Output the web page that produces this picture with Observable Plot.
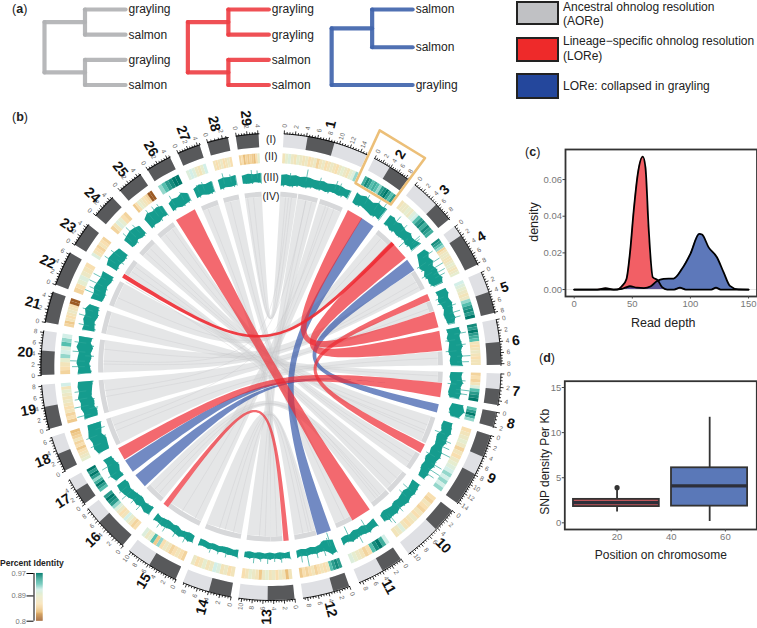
<!DOCTYPE html>
<html><head><meta charset="utf-8">
<script src="https://cdn.jsdelivr.net/npm/d3@7"></script>
<script src="https://cdn.jsdelivr.net/npm/@observablehq/plot@0.6"></script>
<style>
html,body{margin:0;padding:0;background:#fff;font-family:"Liberation Sans",Arial,sans-serif}
#page{position:relative;width:757px;height:628px;overflow:hidden}
.t{position:absolute;white-space:nowrap;color:#222}
.box{position:absolute;box-sizing:border-box;border:2px solid #222}
</style></head><body><div id="page"></div>
<script>
// ---------- DATA ----------
const chrNames=["1","2","3","4","5","6","7","8","9","10","11","12","13","14","15","16","17","18","19","20","21","22","23","24","25","26","27","28","29"];
const sectorStart=[3.3,26.8,38.8,53.1,66.1,78.3,91.7,101.2,107.1,128,145.5,160,174,190,204.4,220,234,243.5,254.5,267.9,281,290.6,301.5,310.4,319,327.6,336.2,344,351.3];
const sectorEnd=[24.8,36.7,50.9,64.1,76.7,89.6,99.5,105,125.8,143.2,157.4,171.9,188,202.4,217.9,232.6,241.1,252.4,265.5,278.9,288.7,299.2,307.5,316.5,325.5,334,342,349.3,357];
const chrLength=[15.3,8.7,9.3,8.3,8.2,8.3,4.7,2.1,14.3,10.8,8.6,8.8,10.5,8.6,10.3,8.6,5.6,6.5,8.2,8.3,4.8,6.3,4.7,4.8,4.7,4.6,4.5,2.8,4.2];
const darkArms=[[[.28,.6]],[[.45,1]],[[.6,1]],[[.25,1]],[[.5,1]],[[.5,1]],[[.5,1]],[[0,1]],[[0,.3],[.55,1]],[[0,.4]],[[0,.45]],[[0,.35]],[[0,.48]],[[0,.45]],[[0,.55]],[[0,.65]],[[0,.55]],[[0,.5]],[[0,.5]],[[0,.55]],[[0,1]],[[0,1]],[[0,1]],[[0,1]],[[0,1]],[[0,1]],[[0,1]],[[0,1]],[[0,1]]];
const identity=[
[.87,.89,.9,.88,.87,.89,.88,.87,.88,.86,.87,.88,.85,.87,.88,.86,.87,.88,.87,.86,.88,.89,.88,.87,.89,.9,.92],
[.94,.96,.95,.93,.94,.93,.92,.95,.96,.97,.95,.93,.95],
[.87,.88,.88,.89,.88,.9,.91,.93,.95,.96,.94,.96,.95,.94],
[.96,.95,.93,.92,.85,.87,.88,.88,.87,.87,.88,.89,.88,.87,.88,.89],
[.91,.9,.89,.88,.87,.88,.92,.93,.95,.96,.95,.97],
[.96,.95,.97,.95,.94,.93,.87,.86,.87,.88,.87,.86,.87,.87],
[.85,.86,.85,.87,.9,.93,.95,.96,.97],
[.93,.95,.97,.94,.92],
[.86,.87,.88,.89,.88,.85,.87,.86,.88,.89,.9,.91,.92,.91,.92,.91,.92],
[.86,.85,.87,.86,.85,.87,.86,.88,.87,.86,.87,.9,.88,.87],
[.91,.94,.97,.96,.93,.86,.85,.87,.88,.89,.9],
[.95,.96,.95,.93,.87,.86,.87,.86,.85,.87,.86,.85,.86,.84],
[.87,.83,.87,.88,.86,.88,.87,.89,.88,.84,.87,.88,.89,.87,.86],
[.87,.86,.88,.87,.9,.91,.88,.87,.89,.87,.86,.88],
[.85,.86,.87,.86,.85,.87,.88,.86,.92,.84,.93,.89,.88,.9],
[.86,.85,.87,.89,.91,.87,.86,.88,.9,.92,.95,.96,.97,.95],
[.93,.95,.97,.94,.92,.95,.97,.95,.97],
[.89,.88,.87,.86,.84,.86,.85,.87,.85,.84,.83],
[.84,.86,.85,.87,.86,.87,.88,.87,.88,.89,.87,.91],
[.85,.86,.87,.89,.92,.91,.9,.93,.92,.91],
[.85,.84,.87,.86,.87,.88,.87,.86,.8,.8],
[.85,.86,.89,.9,.88,.87,.86],
[.9,.87,.86,.85,.87,.86,.85],
[.85,.87,.9,.89,.86,.85],
[.84,.86,.89,.88,.87,.86,.85,.8,.8],
[.92,.93,.95,.96,.97,.97],
[.9,.91,.9,.88,.87,.89,.91],
[.87,.86,.87,.88,.86,.87,.88,.86],
[.85,.86,.83,.85,.84,.85,.84,.83,.86,.89]];
const identityDomain=[.8,.83,.86,.89,.91,.93,.97];
const identityColors=["#9c5a24","#eabf7b","#f8dfb0","#e6edcf","#d3efe8","#55bfae","#00796b"];
const depthHi=[[3,4,3,4,3,4,4,3,3,4,3,4,5,5,4,5],[6,5,7,6,5,8,7,8],[5,6,4,6,5,4,6,4,5,7],[6,8,5,7,4,6,5,7,5],[5,6,4,6,5,4,5,3],[6,7,5,6,7,5,6,5,6],[6,5,7,5,6,5],[10,13,9],[4,5,6,4,5,3,5,6,4,5,3,4,3],[3,4,5,4,6,5,4,6,5,6,4],[4,3,5,4,3,4,5,3,4],[8,9,4,3,4,3,4,3,4],[4,3,4,3,4,3,4,3,4,3],[5,4,4,3,4,3,4,3,4],[4,5,3,5,4,3,4,5,4,5],[4,5,3,5,4,6,7,8,7],[5,7,6,4,5],[6,8,7,9,7,6],[7,6,8,7,9,7,8,7],[7,6,8,7,6,9,7,8],[6,5,7,6,8,5],[6,5,7,6,5,6],[6,8,7,5],[6,7,8,7,5],[6,9,7,8,6],[4,6,5,7,4],[5,7,5,6],[5,6,5,6],[4,5,4,5]];
const depthLo=[[-8,-7,-8,-7,-6,-7,-6,-5,-6,-5,-6,-4,-4,-5,-3,-4],[-5,-6,-4,-5,-6,-7,-5,-6],[-6,-5,-7,-5,-6,-5,-4,-6,-4,-5],[-3,-5,-7,-9,-6,-9,-7,-8,-5],[-6,-5,-7,-5,-4,-6,-5,-4],[-7,-6,-8,-6,-7,-8,-6,-7,-6],[-6,-7,-5,-6,-7,-5],[-1,-3,0],[-5,-6,-4,-7,-6,-5,-7,-6,-8,-6,-7,-5,-4],[-6,-5,-4,-6,-5,-4,-5,-3,-4,-5,-3],[-5,-4,-3,-5,-4,-5,-3,-4,-3],[-5,-6,-7,-4,-3,-4,-3,-4,-3],[-3,-2,-3,-2,-3,-2,-3,-2,-3,-2],[-3,-2,-3,-3,-2,-3,-2,-3,-3],[-3,-4,-3,-2,-4,-3,-4,-3,-2,-3],[-5,-4,-3,-5,-4,-3,-2,-4,-3],[-5,-4,-7,-5,-4],[-6,-7,-8,-5,-7,-8],[-7,-8,-6,-7,-5,-6,-7,-8],[-7,-6,-5,-7,-6,-8,-5,-6],[-7,-6,-5,-7,-6,-5],[-6,-7,-6,-5,-7,-6],[-6,-5,-7,-6],[-5,-6,-4,-6,-5],[-6,-5,-6,-4,-5],[-5,-4,-6,-5,-4],[-5,-4,-6,-5],[-5,-4,-5,-4],[-4,-5,-4,-5]];
const depthSpikes=[[1,.35,12],[1,.78,9],[1,.84,8],[1,.12,6],[1,.55,7],[2,.35,10],[2,.7,11],[2,.9,12],[3,.2,11],[3,.7,-12],[3,.85,11],[3,.9,9],[3,.45,9],[4,.15,12],[4,.4,14],[4,.55,15],[4,.7,13],[4,.8,11],[4,.3,-11],[4,.62,-12],[5,.2,-9],[5,.5,9],[5,.7,11],[5,.85,10],[5,.35,-9],[6,.15,12],[6,.45,10],[6,.75,14],[6,.9,12],[6,.3,-10],[6,.6,-11],[7,.3,9],[7,.65,14],[7,.8,12],[7,.45,-9],[9,.2,-11],[9,.4,10],[9,.5,14],[9,.72,12],[9,.82,14],[9,.9,10],[9,.6,-10],[9,.3,9],[10,.2,-11],[10,.35,-10],[10,.85,12],[10,.9,9],[10,.6,8],[11,.3,-11],[11,.55,10],[11,.8,-13],[12,.1,-14],[12,.15,-9],[12,.5,8],[12,.75,15],[12,.9,9],[12,.3,8],[13,.2,7],[13,.5,8],[13,.8,8],[13,.35,6],[13,.65,6],[14,.3,7],[14,.7,7],[14,.5,6],[15,.2,8],[15,.45,8],[15,.7,9],[15,.85,9],[16,.3,9],[16,.7,12],[16,.85,10],[16,.5,8],[17,.3,10],[17,.7,11],[18,.3,11],[18,.6,12],[18,.8,-10],[19,.1,14],[19,.35,15],[19,.55,13],[19,.75,12],[19,.25,-9],[20,.2,13],[20,.35,16],[20,.6,13],[20,.85,12],[20,.5,-9],[21,.2,11],[21,.55,13],[21,.8,11],[22,.2,16],[22,.35,12],[22,.55,15],[22,.8,14],[23,.3,13],[23,.7,11],[23,.5,-8],[24,.2,12],[24,.5,14],[24,.8,11],[25,.3,13],[25,.6,12],[25,.85,11],[26,.2,11],[26,.7,9],[27,.5,9],[27,.2,8],[28,.3,11],[28,.7,8],[29,.5,9],[29,.8,8]];
// ribbons: [a1,a2,b1,b2] in degrees clockwise from the top
const grayLinks=[[3.3,9,351.3,357],[9.3,16,180,188],[16.8,24.8,204.5,216.5],[38.8,44.5,290.6,299.2],[56.8,63.5,268,278.9],[68,71.5,254.5,265.5],[85,89.6,243.3,252.5],[91.7,95.3,281,288.7],[107,116,310.4,316.5],[120,126,319,325.5],[128,136,302.2,307.5],[136.5,143.2,219.5,226],[151.7,157.4,344,349.3],[164.5,171.9,190,202.4],[176,180,336.2,342]];
const grayThreads=[[5,354],[7,352],[12,184],[14,182],[19,207],[22,212],[41,294],[60,271],[62,276],[70,260],[87,248],[93,284],[110,312],[113,314],[122,321],[124,324],[131,304],[134,306],[139,222],[141,224],[154,346],[167,193],[169,198],[178,338],[196,166],[6,272],[12,262],[20,250],[140,300],[112,300]];
const blueLinks=[[32,36.6,159.6,164.2],[52.5,56.5,102.6,105.1],[226.8,231.6,97.7,97.7],[233,237.5,97.7,97.7]];
const redLinks=[[326.9,333.8,145,151.5],[26.8,32,71.8,76.9],[45,51.5,78.4,84.6],[65.6,67.7,116.5,119.5],[95.5,100,238,242],[174,175.6,216.6,218.3]];
const strongRedLinks=[[44.6,45.8,300.7,301.9]];
const focusBox=[[25,203],[25,261],[36.8,261],[36.8,203],[25,203]];
const trackLabels=[["(I)",227.5],["(II)",210],["(III)",189.5],["(IV)",170.5]];
// density panel
const redX=[0,20,27,34,37,41,45,48,51.2,54.7,59,61.3,64,67.6,72,75.6,80,86,91,96,118,122,126,150];
const redY=[0,0,.0007,0,0,.0018,.0058,.02,.043,.063,.0725,.0667,.034,.0067,.005,.0013,0,0,.001,0,0,.001,0,0];
const blueX=[0,34,40,44,48,54,60,66,71,77,85.6,92.8,100,107.6,110,115.7,122.8,128.5,134,141,150];
const blueY=[0,0,.0002,.001,.0018,.001,.0008,.0018,.0045,.0058,.006,.0113,.0195,.0304,.03,.023,.0176,.0095,.002,.0001,0];
// box panel
const boxes=[{x1:3.9,x2:35.6,q1:1.8,med:2.25,q3:2.6,lo:1.2,hi:3.6,mid:20,fill:"#c0565a"},{x1:40.1,x2:68.2,q1:1.85,med:4.1,q3:6.1,lo:.15,hi:11.7,mid:54.2,fill:"#5a78b8"}];
const outliers=[{mid:20,v:3.9}];
// trees: segments in (depth, tip rank)
const treeColors=["#b1b2b4","#ee4146","#4165ad"];
const treeOffset=[0,3.54,7.09];
const treeSegments=[
 [[0,.5,0,2.5],[0,.5,1,.5],[0,2.5,1,2.5],[1,0,1,1],[1,2,1,3],[1,0,2,0],[1,1,2,1],[1,2,2,2],[1,3,2,3]],
 [[0,.5,0,2.5],[0,.5,1,.5],[0,2.5,1,2.5],[1,0,1,1],[1,2,1,3],[1,0,2,0],[1,1,2,1],[1,2,2,2],[1,3,2,3]],
 [[0,.75,0,3],[0,.75,1,.75],[1,0,1,1.5],[1,0,2,0],[1,1.5,2,1.5],[0,3,2,3]]];
const treeTips=[[["grayling",0],["salmon",1],["grayling",2],["salmon",3]],[["grayling",0],["grayling",1],["salmon",2],["salmon",3]],[["salmon",0],["salmon",1.5],["grayling",3]]];
const legendRows=[{c:"#c0c1c4",top:1,h:24,lines:[["Ancestral ohnolog resolution",0],["(AORe)",14]],ty:-1},{c:"#ee2a2a",top:37,h:25,lines:[["Lineage−specific ohnolog resolution",0],["(LORe)",15]],ty:-3},{c:"#24479c",top:73,h:26,lines:[["LORe: collapsed in grayling",0]],ty:6}];

// ---------- HELPERS ----------
const FONT='"Liberation Sans",Arial,sans-serif';
const page=document.getElementById("page");
function place(el,left,top){el.style.position="absolute";el.style.left=left+"px";el.style.top=top+"px";page.appendChild(el);return el}
const base={background:"transparent",overflow:"visible",maxWidth:"none",fontFamily:FONT,height:"auto"};
const pol=(r,a)=>[r*Math.sin(a*Math.PI/180),r*Math.cos(a*Math.PI/180)];
let uid=0;
function band(out,r1,r2,a1,a2,extra){const id=uid++,n=Math.max(2,Math.ceil(Math.abs(a2-a1)/1.5));
 for(let i=0;i<=n;i++){const a=a1+(a2-a1)*i/n,[x1,y1]=pol(r1,a),[x2,y2]=pol(r2,a);out.push({id,x1,y1,x2,y2,...extra})}return out}
function edge(a,b,r,k=.05,n=64){const P0=pol(r,a),P3=pol(r,b),P1=[P0[0]*k,P0[1]*k],P2=[P3[0]*k,P3[1]*k],pts=[];
 for(let i=0;i<=n;i++){const t=i/n,u=1-t,c=[u*u*u,3*u*u*t,3*u*t*t,t*t*t];
  pts.push([c[0]*P0[0]+c[1]*P1[0]+c[2]*P2[0]+c[3]*P3[0],c[0]*P0[1]+c[1]*P1[1]+c[2]*P2[1]+c[3]*P3[1]])}return pts}
const arcLen=(r,a1,a2)=>Math.abs(a2-a1)*Math.PI/180*r/2;
// a ribbon keeps a minimum width through the pinch near the centre
function ribbons(list,r,keep=.25,add=.5){const out=[];list.forEach(([a1,a2,b1,b2])=>{const id=uid++,e1=edge(a1,b2,r),e2=edge(a2,b1,r);
 const hA=arcLen(r,a1,a2),hB=arcLen(r,b1,b2),m=hB>0&&hA>0?keep*(hA+hB)/2+add:0;
 const center=e1.map((p,i)=>[(p[0]+e2[i][0])/2,(p[1]+e2[i][1])/2]);
 let s=0;
 center.forEach((c,i)=>{const q=center[Math.min(i+1,center.length-1)],o=center[Math.max(i-1,0)];
  let nx=-(q[1]-o[1]),ny=q[0]-o[0];const L=Math.hypot(nx,ny)||1;nx/=L;ny/=L;
  const hx=(e2[i][0]-e1[i][0])/2,hy=(e2[i][1]-e1[i][1])/2;
  if(i===0)s=(hx*nx+hy*ny)>=0?1:-1;
  const h=Math.hypot(hx,hy),w=Math.sqrt(h*h+m*m)*s;
  if(m===0){out.push({id,x1:e1[i][0],y1:e1[i][1],x2:e2[i][0],y2:e2[i][1]})}
  else out.push({id,x1:c[0]-nx*w,y1:c[1]-ny*w,x2:c[0]+nx*w,y2:c[1]+ny*w})})});return out}

// ---------- CIRCOS ----------
const lightBands=[],darkBands=[],heat=[],rings=[],track=[],zig=[],spikes=[],ticks=[],tickText=[],baseline=[],nameText=[];
const R={top:233.5,ideo:219.5,heatTop:213.5,heatIn:203.5,trk:189,ringTop:175,ringIn:170};
chrNames.forEach((nm,c)=>{
 const s=sectorStart[c],e=sectorEnd[c],at=f=>s+(e-s)*f;
 band(lightBands,R.ideo,R.top,s,e,{});
 darkArms[c].forEach(([f1,f2])=>band(darkBands,R.ideo,R.top,at(f1),at(f2),{}));
 identity[c].forEach((v,j,arr)=>band(heat,R.heatIn,R.heatTop,at(j/arr.length),at((j+1)/arr.length),{v}));
 const id=uid++,hi=depthHi[c],lo=depthLo[c];
 hi.forEach((h,j)=>{const a=at(j/(hi.length-1)),p=pol(R.trk+h,a),q=pol(R.trk+lo[j],a);
  track.push({id,x1:p[0],y1:p[1],x2:q[0],y2:q[1]});
  zig.push({id,x:p[0],y:p[1]});const a2=at((j+.5)/(hi.length-1)),q2=pol(R.trk+lo[j],j<hi.length-1?a2:a);zig.push({id,x:q2[0],y:q2[1]})});
 const L=chrLength[c];
 d3.range(0,L+1e-6,.5).forEach(m=>{const a=at(m/L),maj=m%2===0,p=pol(R.top,a),q=pol(R.top+(maj?3.5:2),a);
  ticks.push({x1:p[0],y1:p[1],x2:q[0],y2:q[1]});
  if(maj){const t=pol(R.top+8,a);tickText.push({x:t[0],y:t[1],t:String(m),rot:a<180?a-90:a+90})}});
 const bid=uid++;d3.range(0,41).forEach(i=>{const p=pol(R.top,at(i/40));baseline.push({id:bid,x:p[0],y:p[1]})});
 const mid=at(.5),np=pol(250,mid);nameText.push({x:np[0],y:np[1],t:nm,rot:mid<180?mid-90:mid+90});
});
depthSpikes.forEach(([c,f,o])=>{const a=sectorStart[c-1]+(sectorEnd[c-1]-sectorStart[c-1])*f,p=pol(R.trk,a),q=pol(R.trk+o,a);spikes.push({x1:p[0],y1:p[1],x2:q[0],y2:q[1]})});
grayLinks.forEach(([a1,a2,b1,b2])=>{band(rings,R.ringIn,R.ringTop,a1,a2,{});band(rings,R.ringIn,R.ringTop,b1,b2,{})});
const threadLines=[];grayThreads.forEach(([a,b])=>{const id=uid++;edge(a,b,R.ringIn).forEach(p=>threadLines.push({id,x:p[0],y:p[1]}))});
const area=(d,o)=>Plot.area(d,{x1:"x1",y1:"y1",x2:"x2",y2:"y2",z:"id",...o});
const focus=focusBox.map(([a,r])=>{const p=pol(r,a);return{x:p[0],y:p[1]}});
const roman=trackLabels.map(([t,r])=>{const p=pol(r,0);return{t,x:p[0],y:p[1]}});
place(Plot.plot({width:757,height:628,margin:0,style:base,
 x:{domain:[-234,234],range:[40,501],axis:null},y:{domain:[-234,234],range:[600.5,132.5],axis:null},
 color:{type:"linear",domain:identityDomain,range:identityColors},
 marks:[
  area(ribbons(grayLinks,R.ringIn,.12,.4),{fill:"#d4d5d7",fillOpacity:.6}),
  Plot.line(threadLines,{x:"x",y:"y",z:"id",stroke:"#c2c3c6",strokeWidth:.6,strokeOpacity:.5}),
  area(rings,{fill:"#d7d8da"}),
  area(ribbons(blueLinks,R.ringTop),{fill:"#2f52a6",fillOpacity:.68}),
  area(ribbons(redLinks,R.ringTop),{fill:"#ee2a32",fillOpacity:.7}),
  area(ribbons(strongRedLinks,R.ringTop,.5,.3),{fill:"#ee2a32",fillOpacity:.9}),
  area(track,{fill:"#159c8e"}),
  Plot.line(zig,{x:"x",y:"y",z:"id",stroke:"#159c8e",strokeWidth:.6}),
  Plot.link(spikes,{x1:"x1",y1:"y1",x2:"x2",y2:"y2",stroke:"#2aa698",strokeWidth:.7}),
  area(heat,{fill:"v"}),
  area(lightBands,{fill:"#dfe0e4"}),
  area(darkBands,{fill:"#58595b"}),
  Plot.line(baseline,{x:"x",y:"y",z:"id",stroke:"#000",strokeWidth:1}),
  Plot.link(ticks,{x1:"x1",y1:"y1",x2:"x2",y2:"y2",stroke:"#000",strokeWidth:.8}),
  Plot.text(tickText,{x:"x",y:"y",text:"t",rotate:"rot",fontSize:6.5,fill:"#666"}),
  Plot.text(nameText,{x:"x",y:"y",text:"t",rotate:"rot",fontSize:14,fontWeight:"bold",fill:"#111"}),
  Plot.line(focus,{x:"x",y:"y",stroke:"#ecbf78",strokeWidth:2.6}),
  Plot.text(roman,{x:"x",y:"y",text:"t",fontSize:10.5,fill:"#222"})
 ]}),0,0);

// ---------- TREES ----------
const treeMarks=[];
treeSegments.forEach((segs,i)=>{
 const off=treeOffset[i];
 treeMarks.push(Plot.link(segs,{x1:d=>d[0]+off,y1:d=>d[1],x2:d=>d[2]+off,y2:d=>d[3],stroke:treeColors[i],strokeWidth:4.2,strokeLinecap:"round",strokeOpacity:.92}));
 treeMarks.push(Plot.text(treeTips[i],{x:()=>2+off,y:d=>d[1],text:d=>d[0],textAnchor:"start",dx:3,fontSize:12,fill:"#222"}));
});
place(Plot.plot({width:510,height:105,margin:0,style:base,x:{domain:[0,9.5],range:[44,428.75],axis:null},y:{domain:[0,3],range:[9,84.5],axis:null},marks:treeMarks}),0,0);

// ---------- LEGEND (a) ----------
legendRows.forEach(r=>{
 const b=document.createElement("div");b.className="box";b.style.cssText=`left:516px;top:${r.top}px;width:43px;height:${r.h}px;background:${r.c}`;page.appendChild(b);
 r.lines.forEach(([t,dy])=>{const d=document.createElement("div");d.className="t";d.textContent=t;d.style.cssText=`left:563px;top:${r.top+r.ty+dy}px;font-size:12px;line-height:14px`;page.appendChild(d)});
});
[["a",12,2],["b",12,110],["c",525,145],["d",539,351]].forEach(([k,l,t])=>{const d=document.createElement("div");d.className="t";d.innerHTML=`(<b>${k}</b>)`;d.style.cssText=`left:${l}px;top:${t}px;font-size:12.5px;line-height:15px`;page.appendChild(d)});

// ---------- PANEL C ----------
const redData=redX.map((x,i)=>({x,y:redY[i]})),blueData=blueX.map((x,i)=>({x,y:blueY[i]}));
const axisStyle={stroke:"#444",fill:"#777",fontSize:9.5,tickSize:2.5,tickPadding:1,label:null};
place(Plot.plot({width:257,height:200,marginLeft:65,marginRight:.5,marginTop:19,marginBottom:34,style:base,
 x:{domain:[-7.5,157.3]},y:{domain:[-.0038,.0764]},
 marks:[
  Plot.ruleY([0],{stroke:"#e4e4e4"}),
  Plot.areaY(redData,{x:"x",y:"y",fill:"#ee2a32",fillOpacity:.75,curve:"monotone-x"}),
  Plot.areaY(blueData,{x:"x",y:"y",fill:"#2f52a6",fillOpacity:.78,curve:"monotone-x"}),
  Plot.lineY(redData,{x:"x",y:"y",stroke:"#000",strokeWidth:1.8,curve:"monotone-x"}),
  Plot.lineY(blueData,{x:"x",y:"y",stroke:"#000",strokeWidth:1.8,curve:"monotone-x"}),
  Plot.frame({stroke:"#333",strokeWidth:1.8}),
  Plot.axisX({...axisStyle,ticks:[0,50,100,150]}),
  Plot.axisY({...axisStyle,ticks:[0,.02,.04,.06],tickFormat:d3.format(".2f")}),
  Plot.text(["Read depth"],{frameAnchor:"bottom",dy:30,fontSize:12.5,fill:"#222",dx:2}),
  Plot.text(["density"],{frameAnchor:"left",textAnchor:"middle",dx:-32,dy:-1,rotate:-90,fontSize:12.5,fill:"#222"})
 ]}),500,130);

// ---------- PANEL D ----------
place(Plot.plot({width:257,height:235,marginLeft:64.3,marginRight:.7,marginTop:40.7,marginBottom:46,style:base,
 x:{domain:[.7,71.6]},y:{domain:[-.74,15.7]},
 marks:[
  Plot.ruleX(boxes,{x:"mid",y1:"lo",y2:"hi",stroke:"#333",strokeWidth:1.8}),
  Plot.rect(boxes,{x1:"x1",x2:"x2",y1:"q1",y2:"q3",fill:"fill",stroke:"#333",strokeWidth:1.8}),
  Plot.ruleY(boxes,{y:"med",x1:"x1",x2:"x2",stroke:"#2d2f3a",strokeWidth:3.2}),
  Plot.dot(outliers,{x:"mid",y:"v",r:2.6,fill:"#333"}),
  Plot.frame({stroke:"#333",strokeWidth:1.8}),
  Plot.axisX({...axisStyle,ticks:[20,40,60]}),
  Plot.axisY({...axisStyle,ticks:[0,5,10,15],tickFormat:d=>d}),
  Plot.text(["Position on chromosome"],{frameAnchor:"bottom",dy:29,fontSize:12,fill:"#222"}),
  Plot.text(["SNP density Per Kb"],{frameAnchor:"left",textAnchor:"middle",dx:-20,dy:6.5,rotate:-90,fontSize:12,fill:"#222"})
 ]}),500,340);

// ---------- PERCENT IDENTITY LEGEND ----------
const ramp=d3.range(.8,.97,.0034);
const title=document.createElement("div");title.className="t";title.textContent="Percent Identity";title.style.cssText="left:0;top:558px;font-size:8.5px;font-weight:bold;line-height:10px";page.appendChild(title);
place(Plot.plot({width:50,height:60,marginLeft:33.5,marginRight:7.3,marginTop:8,marginBottom:4.3,style:base,
 x:{domain:[0,1],axis:null},y:{domain:[.8,.97]},
 color:{type:"linear",domain:identityDomain,range:identityColors},
 marks:[
  Plot.rect(ramp,{x1:.27,x2:1,y1:d=>d,y2:d=>d+.0036,fill:d=>d}),
  Plot.ruleX([0],{stroke:"#000",strokeWidth:1}),
  Plot.axisY({ticks:[.8,.89,.97],tickFormat:d=>d,tickSize:7,tickPadding:1,fontSize:7.5,stroke:"#000",fill:"#777",label:null})
 ]}),0,565);
</script></body></html>
